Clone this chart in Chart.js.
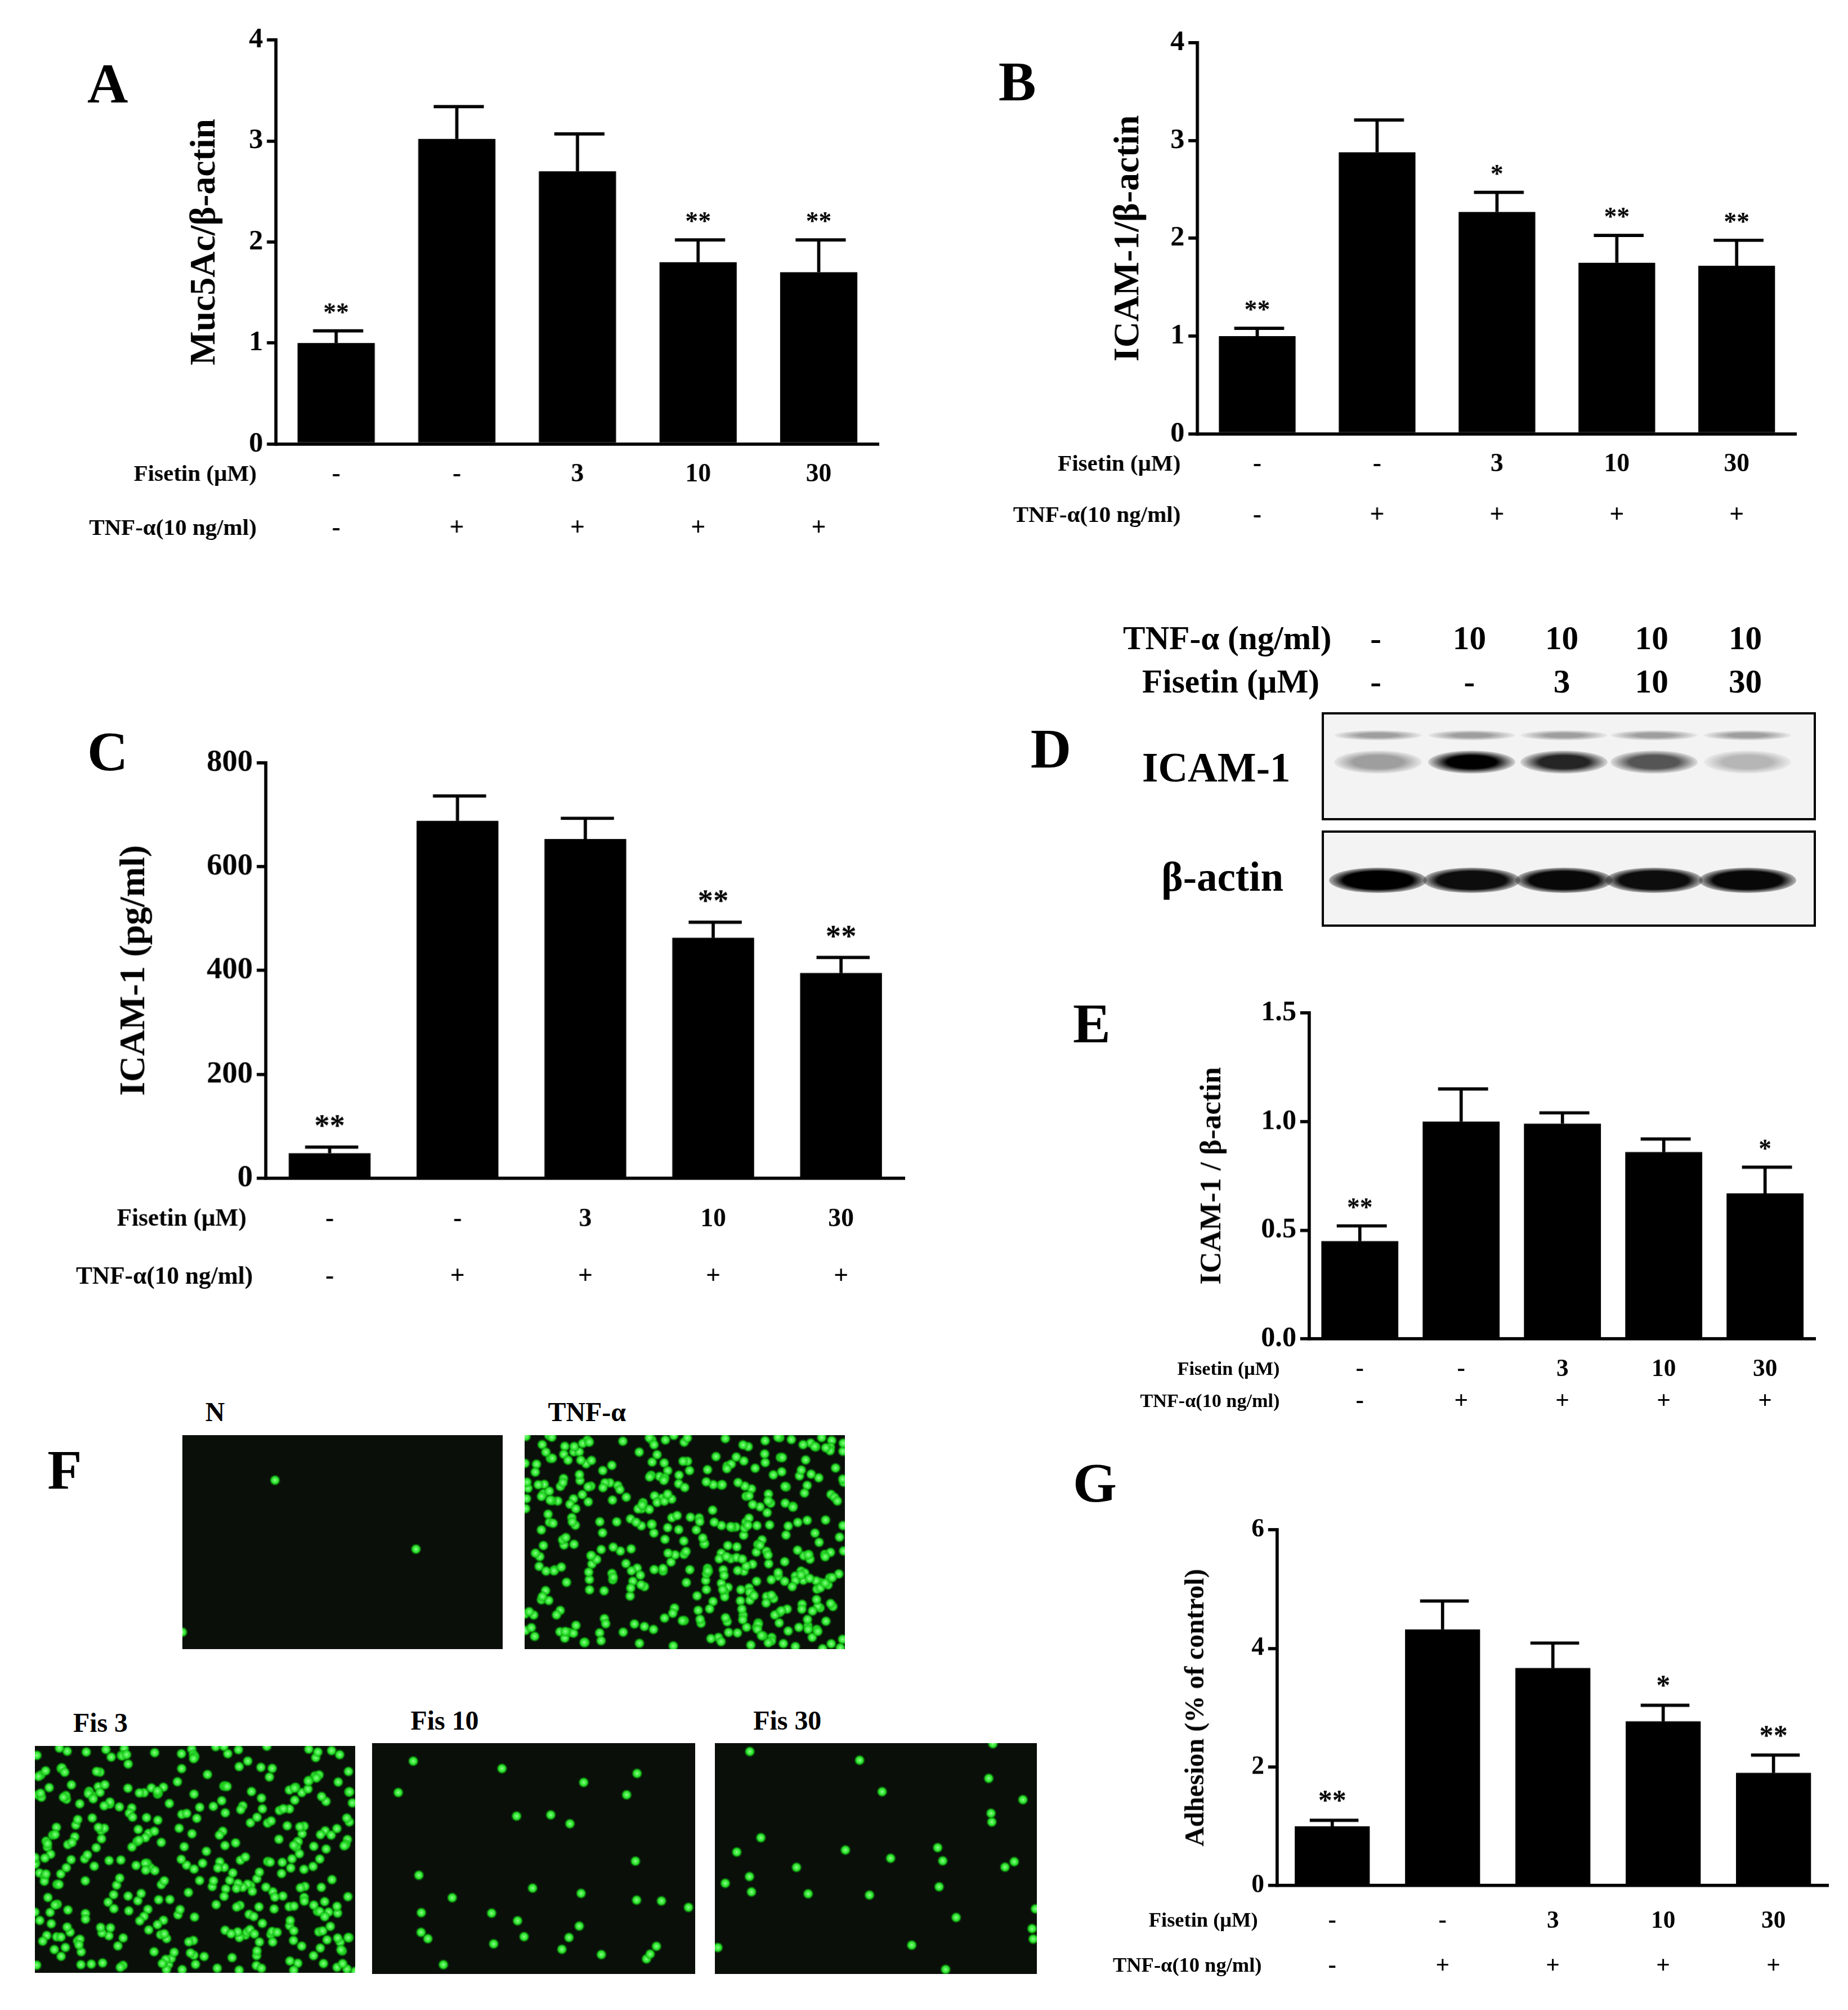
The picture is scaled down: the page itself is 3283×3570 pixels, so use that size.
<!DOCTYPE html><html><head><meta charset="utf-8">
<script src="https://cdn.jsdelivr.net/npm/chart.js@4"></script>
<style>body{margin:0;background:#fff;width:3283px;height:3570px;position:relative;overflow:hidden;font-family:"Liberation Serif",serif;font-weight:bold}
.t{position:absolute;white-space:nowrap;color:#000}</style></head><body>
<script>
const S=3283/1440;
// ---- data ----
const fisetinLabels=['-','-','3','10','30'];
const tnfLabels=['-','+','+','+','+'];
const dTnfLabels=['-','10','10','10','10'];
const aVals=[1.0,3.02,2.7,1.8,1.7], aErr=[0.12,0.32,0.37,0.22,0.32], aStars=['**','','','**','**'];
const bVals=[1.0,2.88,2.27,1.75,1.72], bErr=[0.08,0.33,0.2,0.28,0.26], bStars=['**','','*','**','**'];
const cVals=[48,688,653,463,395], cErr=[12,48,40,30,30], cStars=['**','','','**','**'];
const eVals=[0.45,1.0,0.99,0.86,0.67], eErr=[0.07,0.15,0.05,0.06,0.12], eStars=['**','','','','*'];
const gVals=[1.0,4.32,3.67,2.77,1.9], gErr=[0.1,0.48,0.42,0.27,0.3], gStars=['**','','','*','**'];
const icamBand=[0.35,1.0,0.85,0.65,0.25], actinBand=[1,0.95,0.97,0.95,0.97];

function txt(s,x,y,size,extra){const d=document.createElement('div');d.className='t';d.textContent=s;d.style.left=x*S+'px';d.style.top=y*S+'px';d.style.fontSize=size*S+'px';if(extra)Object.assign(d.style,extra);document.body.appendChild(d);return d;}

function panel(o){
  const c=document.createElement('canvas');
  const L=(o.ax-o.ml),T=(o.yt-15),W=(o.ar-o.ax+o.ml+12),H=(o.y0-o.yt+15+o.mb);
  c.width=W*S;c.height=H*S;c.style.cssText=`position:absolute;left:${L*S}px;top:${T*S}px;width:${W*S}px;height:${H*S}px`;
  document.body.appendChild(c);
  const F='"Liberation Serif", serif';
  new Chart(c,{type:'bar',data:{labels:fisetinLabels.map((_,i)=>i),datasets:[{data:o.vals,backgroundColor:'#000',barPercentage:o.bp,categoryPercentage:1}]},
  options:{responsive:false,animation:false,devicePixelRatio:1,layout:{padding:{top:15*S,right:12*S}},
   plugins:{legend:{display:false},tooltip:{enabled:false}},
   scales:{x:{ticks:{display:false},grid:{display:false},border:{color:'#000',width:2.5*S},afterFit:s=>{s.height=o.mb*S}},
    y:{min:0,max:o.max,ticks:{stepSize:o.step,color:'#000',font:{family:F,weight:'bold',size:o.tf*S},padding:3*S,callback:o.fmt||(v=>v)},
     grid:{drawOnChartArea:false,color:'#000',lineWidth:2.5*S,tickLength:7*S},border:{color:'#000',width:2.5*S},afterFit:s=>{s.width=o.ml*S}}}},
  plugins:[{id:'x',afterDraw(ch){const ctx=ch.ctx,x=ch.scales.x,y=ch.scales.y;ctx.save();
    const bw=ch.getDatasetMeta(0).data[0].width;
    ctx.strokeStyle='#000';ctx.lineWidth=2.5*S;ctx.fillStyle='#000';
    o.vals.forEach((v,i)=>{const cx=x.getPixelForValue(i),y1=y.getPixelForValue(v),y2=y.getPixelForValue(v+o.err[i]);
      ctx.beginPath();ctx.moveTo(cx,y1);ctx.lineTo(cx,y2);ctx.moveTo(cx-bw*0.3,y2);ctx.lineTo(cx+bw*0.35,y2);ctx.stroke();
      ctx.font=`bold ${o.sf*S}px ${F}`;ctx.textAlign='center';ctx.textBaseline='bottom';
      if(o.stars[i])ctx.fillText(o.stars[i],cx,y2-3*S);});
    const y0=y.bottom;
    ctx.textBaseline='middle';
    [[o.r1,o.row1,fisetinLabels,'Fisetin (μM)'],[o.r2,o.row2,o.tnf||tnfLabels,'TNF-α(10 ng/ml)']].forEach(([ry,lx,labs,name])=>{
      const yy=y0+(ry-o.y0)*S;ctx.font=`bold ${o.rf*S}px ${F}`;ctx.textAlign='right';ctx.fillText(name,(lx-(o.ax-o.ml))*S,yy);
      ctx.font=`bold ${o.lf*S}px ${F}`;ctx.textAlign='center';labs.forEach((t,i)=>ctx.fillText(t,x.getPixelForValue(i),yy));});
    ctx.translate((o.yl-(o.ax-o.ml))*S,(y.top+y.bottom)/2);ctx.rotate(-Math.PI/2);ctx.textAlign='center';ctx.font=`bold ${o.yf*S}px ${F}`;ctx.fillText(o.ylab,0,0);
    ctx.restore();}}]});
}
panel({ax:215,ar:685,yt:30,y0:346,ml:185,mb:80,vals:aVals,err:aErr,stars:aStars,max:4,step:1,bp:0.64,tf:22,sf:20,r1:370,r2:412,row1:200,row2:200,rf:18,lf:20,yl:160,ylab:'Muc5Ac/β-actin',yf:28});
panel({ax:933,ar:1400,yt:32,y0:338,ml:185,mb:80,vals:bVals,err:bErr,stars:bStars,max:4,step:1,bp:0.64,tf:22,sf:20,r1:362,r2:402,row1:920,row2:920,rf:18,lf:20,yl:880,ylab:'ICAM-1/β-actin',yf:28});
panel({ax:207,ar:705,yt:592,y0:918,ml:185,mb:90,vals:cVals,err:cErr,stars:cStars,max:800,step:200,bp:0.64,tf:24,sf:24,r1:950,r2:995,row1:192,row2:197,rf:19,lf:20,yl:105,ylab:'ICAM-1 (pg/ml)',yf:28});
panel({ax:1020,ar:1415,yt:788,y0:1043,ml:160,mb:60,vals:eVals,err:eErr,stars:eStars,max:1.5,step:0.5,bp:0.76,tf:22,sf:20,r1:1067,r2:1092,row1:997,row2:997,rf:15,lf:19,yl:945,ylab:'ICAM-1 / β-actin',yf:23,fmt:v=>v.toFixed(1)});
panel({ax:995,ar:1425,yt:1192,y0:1469,ml:160,mb:75,vals:gVals,err:gErr,stars:gStars,max:6,step:2,bp:0.68,tf:20,sf:22,r1:1497,r2:1532,row1:980,row2:983,rf:16,lf:19,yl:932,ylab:'Adhesion (% of control)',yf:21});
// letters
[['A',68,40],['B',778,38],['C',68,560],['D',803,558],['E',836,772],['F',37,1120],['G',836,1130]].forEach(([s,x,y])=>txt(s,x,y,44));
// blot D
txt('TNF-α (ng/ml)',875,482,26);txt('Fisetin  (μM)',890,516,26);
const dx=[1072,1145,1217,1287,1360];
dx.forEach((x,i)=>{const a=txt(dTnfLabels[i],x,482,26,{transform:'translateX(-50%)'});const b=txt(fisetinLabels[i],x,516,26,{transform:'translateX(-50%)'});});
txt('ICAM-1',890,580,32);txt('β-actin',905,665,32);
function box(x,y,w,h){const d=document.createElement('div');d.style.cssText=`position:absolute;left:${x*S}px;top:${y*S}px;width:${w*S}px;height:${h*S}px;border:${2*S}px solid #000;background:#f3f3f3;box-sizing:border-box;overflow:hidden`;document.body.appendChild(d);return d;}
const b1=box(1030,555,385,84),b2=box(1030,647,385,75);
dx.forEach((x,i)=>{const a=icamBand[i];
 const e=document.createElement('div');e.style.cssText=`position:absolute;left:${(x-1030-34)*S}px;top:${28*S}px;width:${68*S}px;height:${18*S}px;border-radius:50%;background:radial-gradient(ellipse,rgba(0,0,0,${a}) 40%,rgba(0,0,0,0) 75%)`;b1.appendChild(e);
 const f=document.createElement('div');f.style.cssText=`position:absolute;left:${(x-1030-34)*S}px;top:${12*S}px;width:${68*S}px;height:${8*S}px;border-radius:50%;background:radial-gradient(ellipse,rgba(0,0,0,0.35) 30%,rgba(0,0,0,0) 75%)`;b1.appendChild(f);
 const g=document.createElement('div');g.style.cssText=`position:absolute;left:${(x-1030-38)*S}px;top:${27*S}px;width:${76*S}px;height:${20*S}px;border-radius:50%;background:radial-gradient(ellipse,rgba(0,0,0,${actinBand[i]}) 50%,rgba(0,0,0,0) 78%)`;b2.appendChild(g);});
// fluorescence images F
const imgs=[['N',142,1118,250,167,3],['TNF-α',409,1118,250,167,420],['Fis 3',27,1360,250,177,380],['Fis 10',290,1358,252,180,32],['Fis 30',557,1358,251,180,30]];
let seed=7;function rnd(){seed=(seed*16807)%2147483647;return seed/2147483647;}
imgs.forEach(([n,x,y,w,h,cnt])=>{txt(n,x+(n.startsWith('Fis')?30:18),y-30,21);
 const c=document.createElement('canvas');c.width=w*S;c.height=h*S;c.style.cssText=`position:absolute;left:${x*S}px;top:${y*S}px`;document.body.appendChild(c);
 const ctx=c.getContext('2d');ctx.fillStyle='#0a0f0a';ctx.fillRect(0,0,c.width,c.height);
 for(let k=0;k<cnt;k++){const px=rnd()*c.width,py=rnd()*c.height;const gr=ctx.createRadialGradient(px,py,0,px,py,4.5*S);gr.addColorStop(0,'#8f8');gr.addColorStop(0.6,'#2d2');gr.addColorStop(1,'rgba(0,120,0,0)');ctx.fillStyle=gr;ctx.beginPath();ctx.arc(px,py,4.5*S,0,7);ctx.fill();}});
</script></body></html>
